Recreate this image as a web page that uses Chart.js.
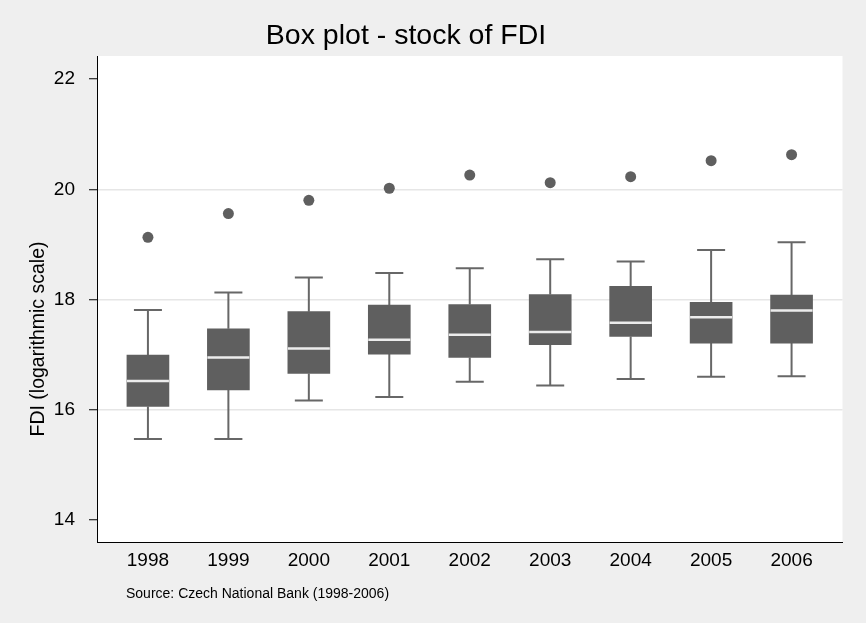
<!DOCTYPE html>
<html>
<head>
<meta charset="utf-8">
<script src="https://cdn.jsdelivr.net/npm/chart.js@4.4.1/dist/chart.umd.min.js"></script>
<style>
  html, body { margin: 0; padding: 0; background: #efefef; }
  #wrap { width: 866px; height: 623px; }
</style>
</head>
<body>
<div id="wrap"><canvas id="grafico" width="866" height="623"></canvas></div>
<script>
// Years on the x axis
const years = ["1998", "1999", "2000", "2001", "2002", "2003", "2004", "2005", "2006"];
// Box plot statistics (log of FDI stock)
const lowerWhisker = [15.47, 15.47, 16.17, 16.23, 16.51, 16.44, 16.56, 16.60, 16.61];
const q1 = [16.06, 16.36, 16.66, 17.01, 16.95, 17.18, 17.33, 17.21, 17.21];
const median = [16.52, 16.95, 17.11, 17.27, 17.36, 17.41, 17.58, 17.68, 17.80];
const q3 = [16.99, 17.47, 17.78, 17.90, 17.91, 18.09, 18.24, 17.95, 18.08];
const upperWhisker = [17.81, 18.13, 18.40, 18.48, 18.57, 18.73, 18.69, 18.90, 19.04];
const outliers = [19.13, 19.56, 19.80, 20.02, 20.26, 20.12, 20.23, 20.52, 20.63];
const yTicks = [14, 16, 18, 20, 22];

const FONT = "'Liberation Sans', Arial, sans-serif";
const boxColor = "#5f5f5f";
const whiskerColor = "#676767";

// whisker segments, broken with null between them
const whiskerData = [];
years.forEach((y, i) => {
  whiskerData.push({ x: i, y: lowerWhisker[i] }, { x: i, y: q1[i] }, { x: i, y: null });
  whiskerData.push({ x: i, y: q3[i] }, { x: i, y: upperWhisker[i] }, { x: i, y: null });
});
const capData = [];
years.forEach((y, i) => {
  capData.push({ x: i, y: lowerWhisker[i] }, { x: i, y: upperWhisker[i] });
});

// white plot area + texts
const decor = {
  id: "decor",
  beforeDraw(chart) {
    const { ctx, chartArea: a } = chart;
    ctx.save();
    ctx.fillStyle = "#efefef";
    ctx.fillRect(0, 0, chart.width, chart.height);
    ctx.fillStyle = "#ffffff";
    ctx.fillRect(a.left, a.top, a.right - a.left, a.bottom - a.top);
    ctx.restore();
  },
  afterDraw(chart) {
    const ctx = chart.ctx;
    ctx.save();
    ctx.fillStyle = "#000";
    ctx.textAlign = "center";
    ctx.textBaseline = "alphabetic";
    ctx.font = "28.5px " + FONT;
    ctx.fillText("Box plot - stock of FDI", 406, 44);

    ctx.font = "14px " + FONT;
    ctx.textAlign = "left";
    ctx.fillText("Source: Czech National Bank (1998-2006)", 126, 598);

    ctx.font = "19.5px " + FONT;
    ctx.textAlign = "center";
    ctx.translate(44, 339);
    ctx.rotate(-Math.PI / 2);
    ctx.fillText("FDI (logarithmic scale)", 0, 0);
    ctx.restore();
  },
};

const ctx = document.getElementById("grafico").getContext("2d");

const chart = new Chart(ctx, {
  type: "bar",
  data: {
    datasets: [
      {
        type: "scatter",
        label: "median",
        data: years.map((y, i) => ({ x: i, y: median[i] })),
        pointStyle: "line",
        pointRadius: 21,
        borderColor: "#ececec",
        borderWidth: 2.5,
        order: 0,
      },
      {
        type: "scatter",
        label: "outliers",
        data: years.map((y, i) => ({ x: i, y: outliers[i] })),
        pointStyle: "circle",
        pointRadius: 5.5,
        backgroundColor: boxColor,
        borderColor: boxColor,
        borderWidth: 0,
        order: 0,
      },
      {
        type: "bar",
        label: "box",
        data: years.map((y, i) => ({ x: i, y: [q1[i], q3[i]] })),
        backgroundColor: boxColor,
        borderWidth: 0,
        barThickness: 42,
        order: 1,
      },
      {
        type: "line",
        label: "whiskers",
        data: whiskerData,
        borderColor: whiskerColor,
        borderWidth: 2,
        pointRadius: 0,
        spanGaps: false,
        fill: false,
        order: 2,
      },
      {
        type: "scatter",
        label: "caps",
        data: capData,
        pointStyle: "line",
        pointRadius: 14,
        borderColor: whiskerColor,
        borderWidth: 2,
        order: 2,
      },
    ],
  },
  options: {
    responsive: false,
    animation: false,
    layout: { padding: { left: 0, top: 56, right: 22, bottom: 0 } },
    plugins: {
      legend: { display: false },
      tooltip: { enabled: false },
      title: { display: false },
    },
    scales: {
      x: {
        type: "linear",
        offset: false,
        min: -0.633,
        max: 8.633,
        afterBuildTicks: (scale) => {
          scale.ticks = years.map((y, i) => ({ value: i }));
        },
        afterFit: (scale) => {
          scale.height = 81;
        },
        ticks: {
          callback: (v) => years[v],
          color: "#000",
          padding: 7,
          maxRotation: 0,
          autoSkip: false,
          font: { family: FONT, size: 19 },
        },
        grid: { color: "transparent", drawTicks: false, offset: false },
        border: { display: true, color: "#000", width: 1 },
      },
      y: {
        min: 13.6,
        max: 22.42,
        afterBuildTicks: (scale) => {
          scale.ticks = yTicks.map((v) => ({ value: v }));
        },
        afterFit: (scale) => {
          scale.width = 97;
        },
        ticks: {
          color: "#000",
          padding: 14,
          font: { family: FONT, size: 19 },
        },
        grid: {
          color: (c) => (c.tick && c.tick.value > 14 && c.tick.value < 22 ? "#e6e6e6" : "transparent"),
          lineWidth: 1.5,
          tickColor: "#000",
          tickLength: 8,
          tickWidth: 1,
        },
        border: { display: true, color: "#000", width: 1 },
      },
    },
  },
  plugins: [decor],
});
</script>
</body>
</html>
